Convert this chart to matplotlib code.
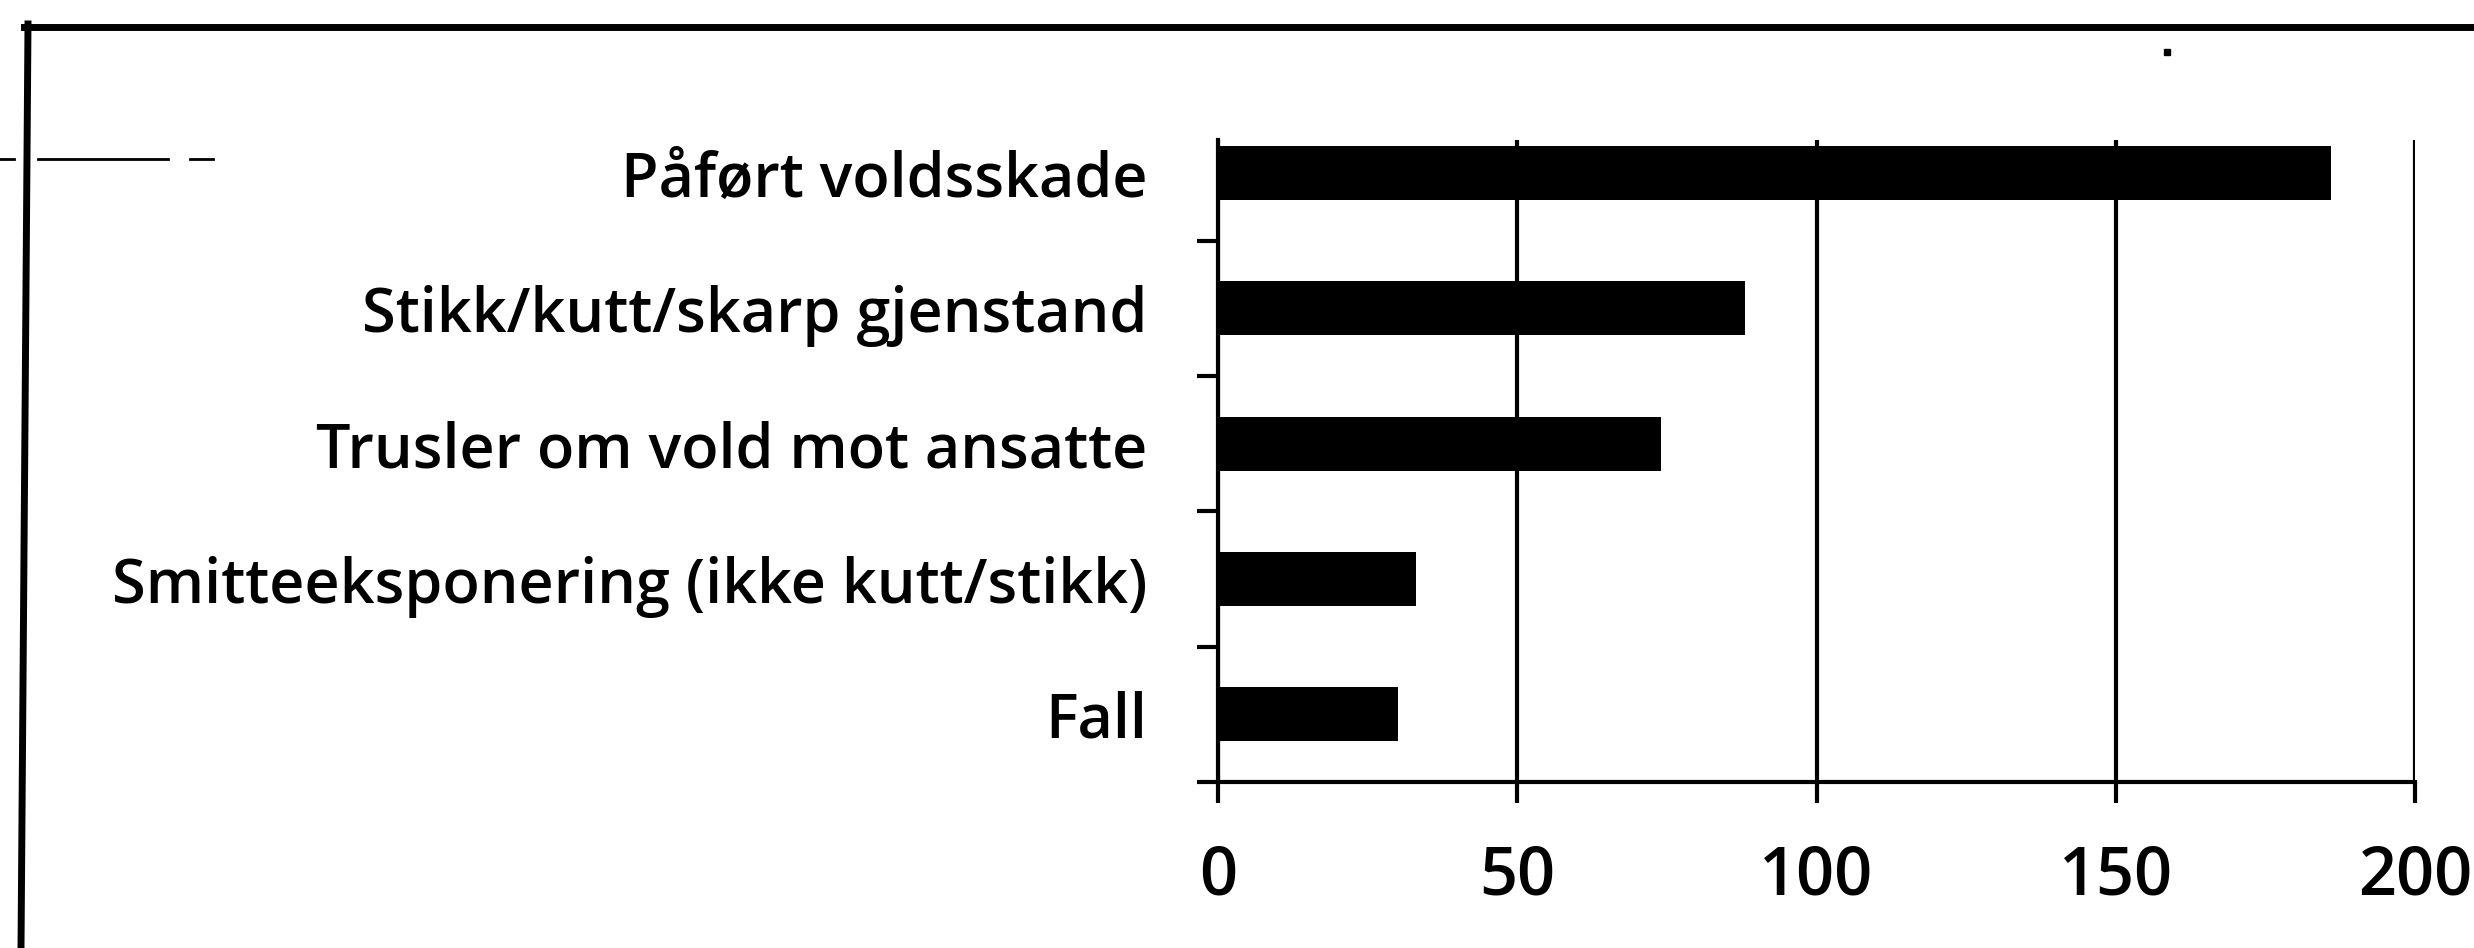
import matplotlib
matplotlib.use("Agg")
import matplotlib.pyplot as plt
from matplotlib.lines import Line2D

# ---- data ----
categories = [
    "Påført voldsskade",
    "Stikk/kutt/skarp gjenstand",
    "Trusler om vold mot ansatte",
    "Smitteeksponering (ikke kutt/stikk)",
    "Fall",
]
values = [186, 88, 74, 33, 30]
xticks = [0, 50, 100, 150, 200]

plt.rcParams["font.family"] = ["Open Sans", "DejaVu Sans"]

W, H = 2474, 948
fig = plt.figure(figsize=(W / 100, H / 100), dpi=100)
fig.patch.set_facecolor("white")

# axes placement (pixel based)
x0, x1 = 1218, 2415
y_top, y_bot = 140, 782
ax = fig.add_axes([x0 / W, 1 - y_bot / H, (x1 - x0) / W, (y_bot - y_top) / H])

pos = list(range(len(categories)))
ax.barh(pos, values, height=0.4, color="black", zorder=2)

ax.set_xlim(xticks[0], xticks[-1])
ax.set_ylim(4.5, -0.244)

ax.set_xticks(xticks)
ax.set_xticklabels([str(t) for t in xticks], fontsize=48, fontweight="semibold")
ax.set_yticks(pos)
ax.set_yticklabels(categories, fontsize=44, fontweight="semibold")
ax.set_yticks([p + 0.5 for p in pos], minor=True)

ax.tick_params(axis="y", which="major", length=0, pad=51)
ax.tick_params(axis="y", which="minor", length=15, width=3, direction="out", color="black")
ax.tick_params(axis="x", which="major", length=15, width=3, direction="out", pad=29, color="black")

ax.xaxis.grid(True, color="black", linewidth=3)
ax.yaxis.grid(False)
ax.set_axisbelow(True)

for s in ["top", "right"]:
    ax.spines[s].set_visible(False)
for s in ["left", "bottom"]:
    ax.spines[s].set_linewidth(3)
    ax.spines[s].set_color("black")

# ---- outer frame (scanned border) ----
def px(x, y):
    return x / W, 1 - y / H

tx, ty = zip(px(24, 27), px(W, 27))
fig.add_artist(Line2D(tx, ty, transform=fig.transFigure, color="black", lw=5))
lx, ly = zip(px(28, 24), px(21, H))
fig.add_artist(Line2D(lx, ly, transform=fig.transFigure, color="black", lw=5))

# small dashed scan artefact on the left
for a, b in [(0, 14), (38, 168), (190, 213)]:
    sx, sy = zip(px(a, 159), px(b, 159))
    fig.add_artist(Line2D(sx, sy, transform=fig.transFigure, color="black", lw=2))

# stray dot near top right
dx, dy = px(2167, 52)
fig.add_artist(Line2D([dx], [dy], transform=fig.transFigure, marker="s",
                      markersize=4, color="black", linestyle="none"))

fig.savefig("out.png", dpi=100, facecolor="white")
